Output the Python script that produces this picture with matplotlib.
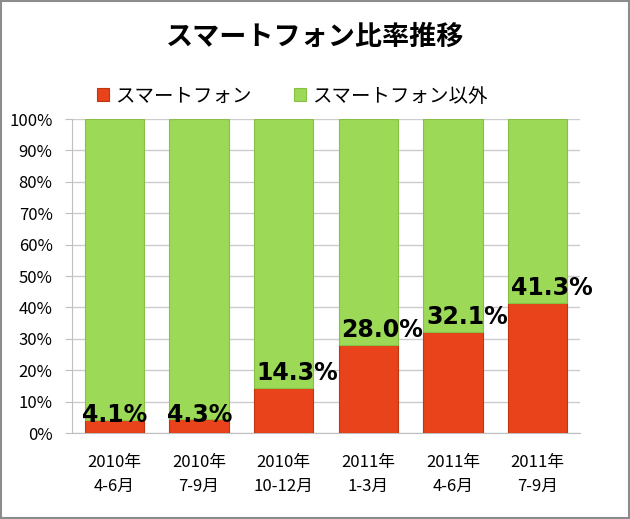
import matplotlib
matplotlib.use("Agg")
import matplotlib.pyplot as plt
from matplotlib.patches import Rectangle
import numpy as np

plt.rcParams['font.family'] = ['Noto Sans CJK JP', 'DejaVu Sans']

categories = ["2010年\n4-6月", "2010年\n7-9月", "2010年\n10-12月",
              "2011年\n1-3月", "2011年\n4-6月", "2011年\n7-9月"]
smart = [4.1, 4.3, 14.3, 28.0, 32.1, 41.3]
other = [100 - v for v in smart]
labels = ["4.1%", "4.3%", "14.3%", "28.0%", "32.1%", "41.3%"]

red = "#E8431A"
green = "#9BD956"
width = 0.7

fig = plt.figure(figsize=(6.3, 5.19), dpi=100)
fig.patches.append(Rectangle((0.002, 0.002), 0.996, 0.996, transform=fig.transFigure,
                             fill=False, edgecolor="#8c8c8c", linewidth=1.5))
ax = fig.add_axes([0.1143, 0.1657, 0.8063, 0.605])

x = np.arange(len(categories))
ax.bar(x, smart, width=width, color=red, edgecolor="#c0360f", linewidth=0.8, zorder=3,
       label="スマートフォン")
ax.bar(x, other, width=width, bottom=smart, color=green, edgecolor="#86c046", linewidth=0.8,
       zorder=3, label="スマートフォン以外")

# labels sit on the top of the red part, starting near the bar's left edge
for xi, v, t in zip(x, smart, labels):
    off = -1.5 if v < 10 else 6
    dx = -2 if v < 10 else 2
    ax.annotate(t, (xi - width / 2, v), xytext=(dx, off), textcoords="offset points",
                ha="left", va="baseline", fontsize=17, fontweight="bold",
                family=["DejaVu Sans"], zorder=5)

ax.set_xlim(-0.5, len(categories) - 0.5)
ax.set_ylim(0, 100)
ax.set_yticks(range(0, 101, 10))
ax.set_yticklabels([f"{v}%" for v in range(0, 101, 10)], fontsize=12)
ax.set_xticks(x)
ax.set_xticklabels(categories, fontsize=12, linespacing=1.55)
ax.tick_params(axis="x", length=0, pad=15)
ax.tick_params(axis="y", length=5, color="#bfbfbf", pad=9)
ax.yaxis.grid(True, color="#cccccc", linewidth=1, zorder=0)
for s in ["top", "right"]:
    ax.spines[s].set_visible(False)
ax.spines["left"].set_color("#bfbfbf")
ax.spines["bottom"].set_color("#bfbfbf")

fig.text(0.5, 0.928, "スマートフォン比率推移", ha="center", va="center",
         fontsize=19.5, fontweight="bold")
fig.legend(loc="center", bbox_to_anchor=(0.464, 0.815), ncol=2, frameon=False,
           fontsize=14, handlelength=0.6, handleheight=0.6, handletextpad=0.3,
           columnspacing=2.2)

fig.savefig("out.png", dpi=100)
